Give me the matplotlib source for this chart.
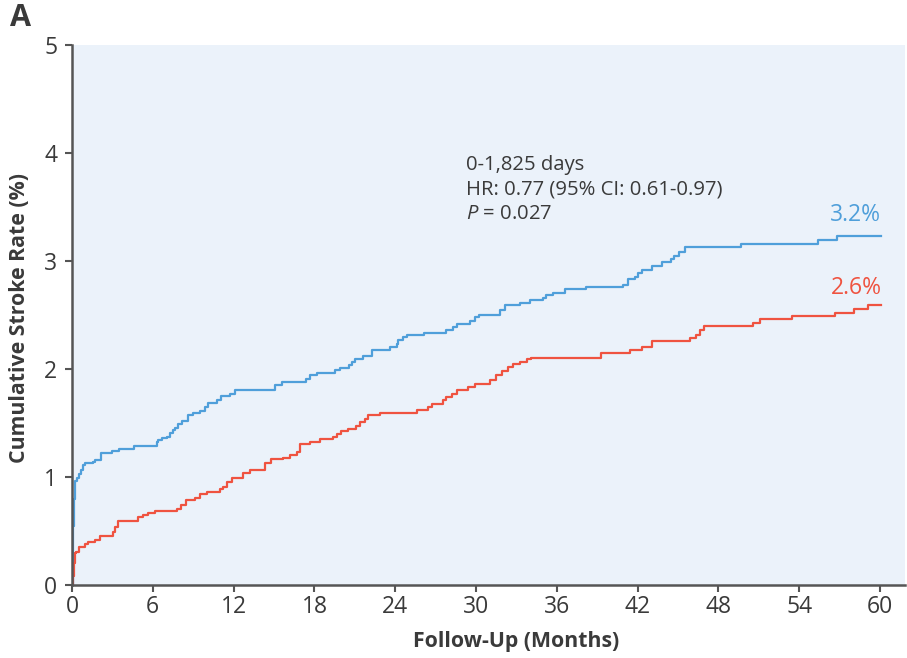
import matplotlib
matplotlib.use('Agg')
import matplotlib.pyplot as plt

plt.rcParams['font.family'] = ['Open Sans', 'DejaVu Sans']
plt.rcParams['mathtext.fontset'] = 'custom'
plt.rcParams['mathtext.it'] = 'Open Sans:italic'
plt.rcParams['mathtext.rm'] = 'Open Sans'

# Kaplan-Meier style cumulative stroke rate (%)
blue_t = [0, 0.05, 0.1, 0.15, 0.2, 0.35, 0.5, 0.65, 0.8, 0.97, 1.55, 1.71, 2.15, 3.0, 3.5, 4.6,
          6.29, 6.4, 6.7, 7.08, 7.28, 7.52, 7.65, 7.9, 8.14, 8.64, 9.0, 9.5, 9.87, 10.1, 10.74,
          11.1, 11.7, 12.1, 15.07, 15.57, 17.4, 17.67, 18.17, 19.5, 19.9, 20.6, 20.77, 21.0,
          21.6, 22.25, 23.6, 24.1, 24.2, 24.6, 24.85, 26.1, 27.8, 28.3, 28.56, 29.55, 29.9,
          30.2, 31.8, 32.15, 33.26, 34.0, 35.0, 35.2, 35.7, 36.6, 38.2, 40.93, 41.3, 41.8,
          42.04, 42.3, 43.03, 43.8, 44.5, 44.7, 45.1, 45.5, 49.7, 55.4, 56.8, 60.1]
blue_v = [0, 0.30, 0.55, 0.80, 0.96, 0.99, 1.03, 1.065, 1.11, 1.127, 1.142, 1.157, 1.225, 1.244,
          1.26, 1.287, 1.327, 1.34, 1.358, 1.373, 1.404, 1.435, 1.45, 1.49, 1.52, 1.574, 1.595,
          1.614, 1.65, 1.688, 1.713, 1.75, 1.77, 1.81, 1.85, 1.877, 1.91, 1.944, 1.966, 1.99,
          2.006, 2.037, 2.068, 2.09, 2.12, 2.176, 2.207, 2.23, 2.27, 2.30, 2.315, 2.33, 2.36,
          2.39, 2.42, 2.447, 2.485, 2.50, 2.546, 2.593, 2.608, 2.639, 2.66, 2.685, 2.706, 2.74,
          2.76, 2.778, 2.83, 2.855, 2.89, 2.92, 2.95, 2.99, 3.015, 3.046, 3.086, 3.13, 3.16,
          3.19, 3.23, 3.23]

red_t = [0, 0.05, 0.12, 0.22, 0.3, 0.54, 0.97, 1.21, 1.7, 2.08, 3.07, 3.19, 3.44, 4.9, 5.29,
         5.66, 6.16, 7.77, 8.07, 8.5, 9.1, 9.5, 10.0, 10.99, 11.23, 11.5, 11.86, 12.7, 13.2,
         14.3, 14.8, 15.7, 16.2, 16.7, 16.9, 17.7, 18.4, 19.4, 19.65, 20.0, 20.5, 21.1, 21.4,
         21.75, 22.0, 22.9, 25.6, 26.45, 26.7, 27.57, 27.8, 28.2, 28.56, 29.4, 29.9, 31.0,
         31.5, 31.9, 32.4, 32.75, 33.26, 33.75, 34.1, 39.25, 41.4, 42.3, 43.1, 45.9, 46.3,
         46.6, 46.9, 50.6, 51.1, 53.45, 56.65, 58.1, 59.1, 60.1]
red_v = [0, 0.08, 0.20, 0.293, 0.309, 0.355, 0.38, 0.40, 0.417, 0.454, 0.494, 0.54, 0.595,
         0.627, 0.648, 0.67, 0.688, 0.70, 0.74, 0.79, 0.81, 0.843, 0.864, 0.886, 0.91, 0.957,
         0.988, 1.04, 1.065, 1.127, 1.164, 1.18, 1.204, 1.234, 1.31, 1.327, 1.35, 1.37, 1.40,
         1.43, 1.44, 1.47, 1.51, 1.54, 1.574, 1.595, 1.62, 1.65, 1.676, 1.713, 1.74, 1.77,
         1.81, 1.83, 1.86, 1.898, 1.944, 1.984, 2.02, 2.05, 2.068, 2.09, 2.10, 2.145, 2.176,
         2.207, 2.26, 2.29, 2.315, 2.36, 2.40, 2.43, 2.46, 2.49, 2.52, 2.56, 2.59, 2.59]

x_ticks = [0, 6, 12, 18, 24, 30, 36, 42, 48, 54, 60]
y_ticks = [0, 1, 2, 3, 4, 5]

blue = '#4f9fda'
red = '#ef5340'
dark = '#3a3a3a'
spine = '#555555'

fig = plt.figure(figsize=(9.07, 6.58), dpi=100)
ax = fig.add_axes([72 / 907, 1 - 585 / 658, (905 - 72) / 907, (585 - 45) / 658])
ax.set_facecolor('#ebf2fa')

ax.plot(blue_t, blue_v, drawstyle='steps-post', color=blue, linewidth=1.6)
ax.plot(red_t, red_v, drawstyle='steps-post', color=red, linewidth=1.6)

ax.set_xlim(0, 61.85)
ax.set_ylim(0, 5)
ax.set_xticks(x_ticks)
ax.set_yticks(y_ticks)
ax.tick_params(direction='out', length=5, width=1.5, color=spine, labelsize=16.5,
               labelcolor=dark)
ax.tick_params(axis='x', pad=2)
ax.tick_params(axis='y', pad=5.5)

for s in ['top', 'right']:
    ax.spines[s].set_visible(False)
for s in ['left', 'bottom']:
    ax.spines[s].set_color(spine)
    ax.spines[s].set_linewidth(1.8)

# labels
fig.text(516 / 907, 1 - 642 / 658, 'Follow-Up (Months)', ha='center', va='center',
         fontsize=15.3, fontweight='bold', color=dark)
fig.text(20 / 907, 1 - 318 / 658, 'Cumulative Stroke Rate (%)', ha='center', va='center',
         rotation=90, fontsize=15.3, fontweight='bold', color=dark)
fig.text(10 / 907, 1 - 18 / 658, 'A', ha='left', va='center', fontsize=22,
         fontweight='bold', color=dark)

# annotation block
ax.text(29.25, 3.89, '0-1,825 days', fontsize=14.6, color=dark, ha='left', va='center')
ax.text(29.25, 3.665, 'HR: 0.77 (95% CI: 0.61-0.97)', fontsize=14.6, color=dark,
        ha='left', va='center')
ax.text(29.25, 3.435, r'$P$ = 0.027', fontsize=14.6, color=dark, ha='left', va='center')

# end labels
ax.text(60.1, 3.43, '3.2%', fontsize=16.5, color=blue, ha='right', va='center')
ax.text(60.1, 2.75, '2.6%', fontsize=16.5, color=red, ha='right', va='center')

fig.savefig('out.png', dpi=100)
